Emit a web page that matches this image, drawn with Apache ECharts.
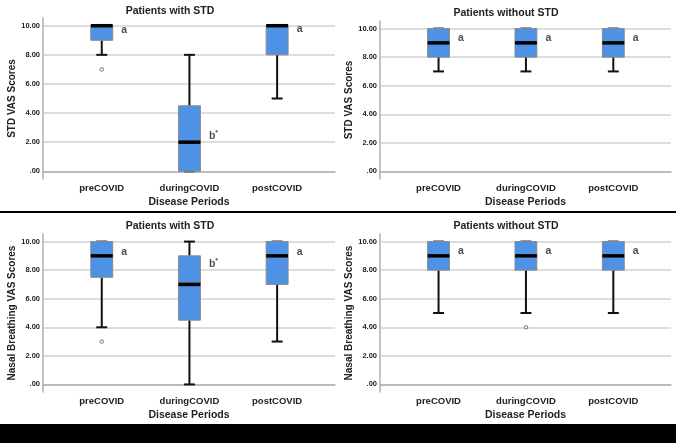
<!DOCTYPE html>
<html><head><meta charset="utf-8">
<script src="https://cdn.jsdelivr.net/npm/echarts@6/dist/echarts.min.js"></script>
<style>html,body{margin:0;padding:0;background:#fff}#c{width:676px;height:443px}</style>
</head><body><div id="c"></div>
<script>
// ---- data ----
const categories = ['preCOVID', 'duringCOVID', 'postCOVID'];
const yTicks = [0, 2, 4, 6, 8, 10];
// box stats: [whisker low, Q1, median, Q3, whisker high]
const stdWithBoxes = [[8, 9, 10, 10, 10], [0, 0, 2, 4.5, 8], [5, 8, 10, 10, 10]];
const stdWithoutBoxes = [[7, 8, 9, 10, 10], [7, 8, 9, 10, 10], [7, 8, 9, 10, 10]];
const nasalWithBoxes = [[4, 7.5, 9, 10, 10], [0, 4.5, 7, 9, 10], [3, 7, 9, 10, 10]];
const nasalWithoutBoxes = [[5, 8, 9, 10, 10], [5, 8, 9, 10, 10], [5, 8, 9, 10, 10]];
// outliers: [category index (1-based), value]
const stdWithOutliers = [[1, 7]];
const stdWithoutOutliers = [];
const nasalWithOutliers = [[1, 3]];
const nasalWithoutOutliers = [[2, 4]];
// significance letters and the height they are written at
const stdWithLetters = ['a', 'b*', 'a'];
const stdWithLetterY = [9.7, 2.4, 9.8];
const stdWithoutLetters = ['a', 'a', 'a'];
const stdWithoutLetterY = [9.35, 9.35, 9.35];
const nasalWithLetters = ['a', 'b*', 'a'];
const nasalWithLetterY = [9.25, 8.45, 9.25];
const nasalWithoutLetters = ['a', 'a', 'a'];
const nasalWithoutLetterY = [9.35, 9.35, 9.35];

const panels = [
  {title: 'Patients with STD', yName: 'STD VAS Scores', boxes: stdWithBoxes, out: stdWithOutliers, letters: stdWithLetters, ly: stdWithLetterY,
   grid: {left: 43, right: 341, top: 18, height: 161}, titleX: 170, titleY: 6},
  {title: 'Patients without STD', yName: 'STD VAS Scores', boxes: stdWithoutBoxes, out: stdWithoutOutliers, letters: stdWithoutLetters, ly: stdWithoutLetterY,
   grid: {left: 380, right: 5, top: 21, height: 158}, titleX: 506, titleY: 8},
  {title: 'Patients with STD', yName: 'Nasal Breathing VAS Scores', boxes: nasalWithBoxes, out: nasalWithOutliers, letters: nasalWithLetters, ly: nasalWithLetterY,
   grid: {left: 43, right: 341, top: 234, height: 158}, titleX: 170, titleY: 221},
  {title: 'Patients without STD', yName: 'Nasal Breathing VAS Scores', boxes: nasalWithoutBoxes, out: nasalWithoutOutliers, letters: nasalWithoutLetters, ly: nasalWithoutLetterY,
   grid: {left: 380, right: 5, top: 234, height: 158}, titleX: 506, titleY: 221}
];

const FONT = '"Liberation Sans", Arial, sans-serif';
const TXT = '#222';
const option = {
  animation: false,
  backgroundColor: '#fff',
  title: [], grid: [], xAxis: [], yAxis: [], series: [],
  graphic: [
    {type: 'rect', shape: {x: 0, y: 211, width: 676, height: 2}, style: {fill: '#000'}},
    {type: 'rect', shape: {x: 0, y: 424, width: 676, height: 19}, style: {fill: '#000'}}
  ]
};

panels.forEach((p, i) => {
  option.title.push({text: p.title, left: p.titleX, top: p.titleY, textAlign: 'center', padding: 0,
    textStyle: {fontFamily: FONT, fontSize: 10.5, fontWeight: 'bold', color: TXT}});
  option.grid.push(Object.assign({containLabel: false}, p.grid));
  option.xAxis.push({
    type: 'value', gridIndex: i, min: 0.33, max: 3.66,
    name: 'Disease Periods', nameLocation: 'middle', nameGap: 18,
    nameTextStyle: {fontFamily: FONT, fontSize: 10.5, fontWeight: 'bold', color: TXT},
    axisLine: {show: true, lineStyle: {color: '#b0b0b0', width: 1.5}},
    axisTick: {show: false},
    splitLine: {show: false},
    axisLabel: {customValues: [1, 2, 3], formatter: v => categories[Math.round(v) - 1], margin: 4,
      fontFamily: FONT, fontSize: 9.5, fontWeight: 'bold', color: TXT}
  });
  option.yAxis.push({
    type: 'value', gridIndex: i, min: -0.53, max: 10.53,
    name: p.yName, nameLocation: 'middle', nameGap: 26,
    nameTextStyle: {fontFamily: FONT, fontSize: 10, fontWeight: 'bold', color: TXT},
    axisLine: {show: true, lineStyle: {color: '#b0b0b0', width: 1.5}},
    axisTick: {show: false, customValues: yTicks},
    splitLine: {show: true, lineStyle: {color: '#d2d2d2', width: 1.5}},
    axisLabel: {customValues: yTicks, formatter: v => v === 0 ? '.00' : v.toFixed(2), margin: 3,
      fontFamily: FONT, fontSize: 7.5, fontWeight: 'bold', color: TXT}
  });
  option.series.push({
    type: 'custom', xAxisIndex: i, yAxisIndex: i, coordinateSystem: 'cartesian2d',
    data: p.boxes.map((b, k) => [k + 1].concat(b)),
    encode: {x: 0, y: [1, 2, 3, 4, 5]},
    renderItem: function (params, api) {
      const x = api.value(0);
      const pLow = api.coord([x, api.value(1)]);
      const pQ1 = api.coord([x, api.value(2)]);
      const pMed = api.coord([x, api.value(3)]);
      const pQ3 = api.coord([x, api.value(4)]);
      const pHigh = api.coord([x, api.value(5)]);
      const hw = api.size([0.25, 0])[0] / 2;
      const cw = hw / 2;
      const cx = pQ1[0];
      const ls = {stroke: '#111', lineWidth: 2};
      return {type: 'group', children: [
        {type: 'line', shape: {x1: cx, y1: pLow[1], x2: cx, y2: pQ1[1]}, style: ls},
        {type: 'line', shape: {x1: cx, y1: pQ3[1], x2: cx, y2: pHigh[1]}, style: ls},
        {type: 'line', shape: {x1: cx - cw, y1: pLow[1], x2: cx + cw, y2: pLow[1]}, style: ls},
        {type: 'line', shape: {x1: cx - cw, y1: pHigh[1], x2: cx + cw, y2: pHigh[1]}, style: ls},
        {type: 'rect', shape: {x: cx - hw, y: pQ3[1], width: hw * 2, height: pQ1[1] - pQ3[1]},
          style: {fill: '#4d92e4', stroke: '#8a8a8a', lineWidth: 1}},
        {type: 'line', shape: {x1: cx - hw, y1: pMed[1], x2: cx + hw, y2: pMed[1]}, style: {stroke: '#000', lineWidth: 3.5}}
      ]};
    }
  });
  if (p.out.length) {
    option.series.push({
      type: 'scatter', xAxisIndex: i, yAxisIndex: i, data: p.out, symbol: 'circle', symbolSize: 3.5,
      itemStyle: {color: '#fff', borderColor: '#555', borderWidth: 1}
    });
  }
  option.series.push({
    type: 'scatter', xAxisIndex: i, yAxisIndex: i, symbolSize: 1,
    data: p.ly.map((y, k) => [k + 1, y]),
    itemStyle: {color: 'rgba(0,0,0,0)'},
    label: {show: true, position: 'right', distance: 19,
      formatter: prm => { const t = p.letters[prm.dataIndex]; return t.indexOf('*') >= 0 ? t.replace('*', '') + '{s|*}' : t; },
      fontFamily: FONT, fontSize: 10.5, fontWeight: 'bold', color: TXT,
      rich: {s: {fontSize: 7, fontWeight: 'bold', color: TXT, verticalAlign: 'top', padding: [0, 0, 6, 0]}}}
  });
});

const chart = echarts.init(document.getElementById('c'), null, {renderer: 'canvas'});
chart.setOption(option);
</script></body></html>
